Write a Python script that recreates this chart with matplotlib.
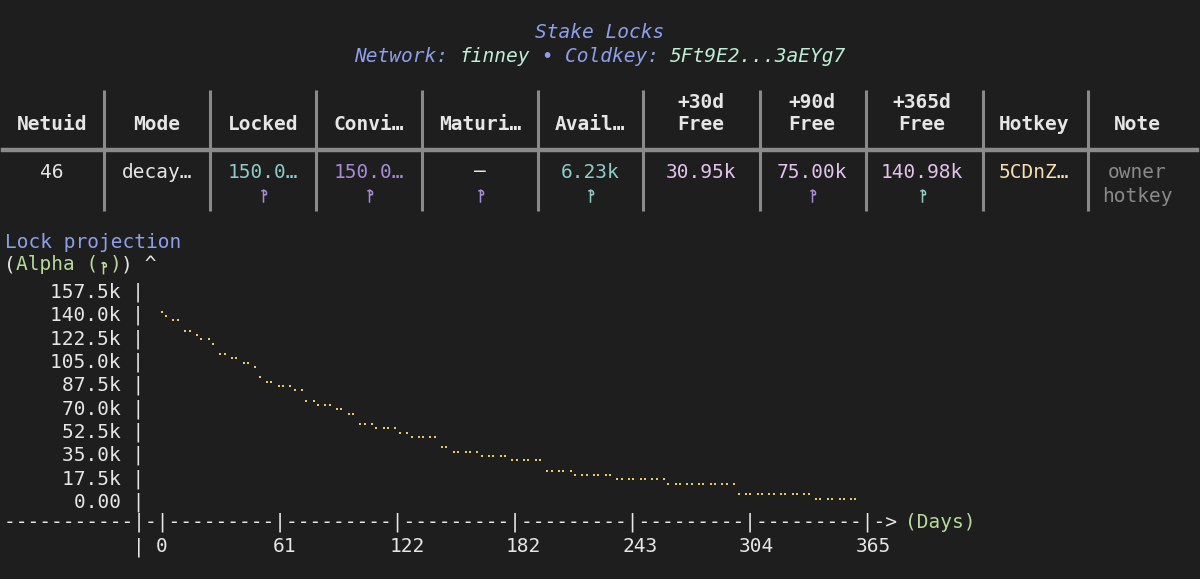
import matplotlib
matplotlib.use("Agg")
import matplotlib.pyplot as plt
import matplotlib.transforms as mtransforms
from matplotlib.path import Path

plt.rcParams["font.family"] = ["DejaVu Sans Mono", "DejaVu Sans", "Noto Sans"]

# --- data ---
network = "finney"
coldkey = "5Ft9E2...3aEYg7"

header_top = ["", "", "", "", "", "", "+30d", "+90d", "+365d", "", ""]
header_bottom = ["Netuid", "Mode", "Locked", "Convi…", "Maturi…", "Avail…",
                 "Free", "Free", "Free", "Hotkey", "Note"]
row_main = ["46", "decay…", "150.0…", "150.0…", "—", "6.23k",
            "30.95k", "75.00k", "140.98k", "5CDnZ…", "owner"]
row_note = "hotkey"
# columns whose value carries the subnet alpha symbol on the second line
sym_cols = [2, 3, 4, 5, 7, 8]

y_ticks = [0, 17.5, 35.0, 52.5, 70.0, 87.5, 105.0, 122.5, 140.0, 157.5]
y_tick_labels = ["0.00", "17.5k", "35.0k", "52.5k", "70.0k", "87.5k",
                 "105.0k", "122.5k", "140.0k", "157.5k"]
x_ticks = [0, 61, 122, 182, 243, 304, 365]

# projected locked alpha (thousands) per day
days = [0.0, 2.2, 5.9, 8.3, 12.1, 14.4, 18.2, 20.5, 24.4, 26.6,
        30.4, 32.7, 36.5, 38.7, 42.6, 44.8, 48.6, 50.9, 54.7, 57.0,
        60.8, 63.1, 66.9, 69.2, 73.0, 75.2, 79.1, 81.3, 85.1, 87.4,
        91.2, 93.5, 97.3, 99.6, 103.4, 105.7, 109.5, 111.7, 115.6, 117.8,
        121.6, 123.9, 127.7, 130.1, 133.8, 136.1, 139.9, 142.2, 146.1, 148.3,
        152.2, 154.5, 158.3, 160.6, 164.4, 166.7, 170.5, 172.8, 176.6, 178.9,
        182.7, 185.0, 188.8, 191.1, 194.9, 197.2, 201.0, 203.2, 207.1, 209.3,
        213.2, 215.4, 219.2, 221.5, 225.3, 227.6, 231.4, 233.6, 237.5, 239.8,
        243.6, 245.8, 249.7, 251.9, 255.7, 258.0, 261.8, 264.1, 267.9, 270.1,
        274.0, 276.2, 280.1, 282.3, 286.2, 288.4, 292.2, 294.5, 298.3, 300.7,
        304.5, 306.8, 310.6, 312.9, 316.7, 319.0, 322.8, 325.1, 328.9, 331.1,
        335.0, 337.3, 341.1, 343.3, 347.2, 349.4, 353.3, 355.5, 359.3, 361.6]
alpha_k = [141.2, 138.0, 134.8, 134.8, 127.0, 127.0, 124.0, 120.5, 120.5, 117.2,
           109.5, 109.5, 106.3, 106.3, 103.0, 103.0, 99.8, 92.0, 88.7, 88.7,
           85.5, 85.5, 85.5, 82.3, 82.3, 74.5, 74.5, 71.3, 71.3, 71.3,
           68.0, 68.0, 64.7, 64.7, 57.0, 57.0, 57.0, 53.8, 53.8, 53.8,
           53.8, 50.5, 50.5, 47.3, 47.3, 47.3, 47.3, 47.3, 39.5, 39.5,
           36.2, 36.2, 36.2, 36.2, 36.2, 33.0, 33.0, 33.0, 33.0, 33.0,
           29.8, 29.8, 29.8, 29.8, 29.8, 29.8, 22.0, 22.0, 22.0, 22.0,
           22.0, 18.8, 18.8, 18.8, 18.8, 18.8, 18.8, 18.8, 15.5, 15.5,
           15.5, 15.5, 15.5, 15.5, 15.5, 15.5, 15.5, 12.2, 12.2, 12.2,
           12.2, 12.2, 12.2, 12.2, 12.2, 12.2, 12.2, 12.2, 12.2, 4.5,
           4.5, 4.5, 4.5, 4.5, 4.5, 4.5, 4.5, 4.5, 4.5, 4.5,
           4.5, 4.5, 1.0, 1.0, 1.0, 1.0, 1.0, 1.0, 1.0, 1.0]

# --- layout / colours ---
W, H = 1200, 579
FS = 14
CW = 11.7  # monospace cell width in px
X0 = 4
BG = "#1e1e1e"
WHITE = "#e6e6e6"
BLUE = "#8d9fea"
MINT = "#bdeed6"
GREEN = "#b9d99a"
TEAL = "#8ccdc6"
PURPLE = "#a58bd9"
PINK = "#e2c3ee"
GREY = "#8a8a8a"

col_x = [52, 157, 263, 369, 480, 590, 701, 812, 922, 1034, 1137]
sep_x = [104, 210, 316, 422, 538, 643, 760, 866, 983, 1088]
main_colors = [WHITE, WHITE, TEAL, PURPLE, WHITE, TEAL, PINK, PINK, PINK, "#f7dfae", GREY]
sym_colors = {2: PURPLE, 3: PURPLE, 4: PURPLE, 5: TEAL, 7: PURPLE, 8: TEAL}

# the runic subnet symbol has no glyph in the installed fonts, so it is
# drawn as a small outline marker (stem + bowl, like the terminal glyph)
SYM_PATH = Path(
    [(-0.35, 0.85), (0.0, 1.0), (0.0, -1.0),
     (0.0, 1.0), (0.45, 0.95), (0.55, 0.6), (0.45, 0.3), (0.0, 0.25)],
    [Path.MOVETO, Path.LINETO, Path.LINETO,
     Path.MOVETO, Path.CURVE4, Path.CURVE4, Path.CURVE4, Path.LINETO])

fig = plt.figure(figsize=(W / 100, H / 100), dpi=100)
fig.patch.set_facecolor(BG)

bg = fig.add_axes([0, 0, 1, 1])
bg.set_xlim(0, W)
bg.set_ylim(H, 0)
bg.axis("off")


def put(x, y, s, color, ha="left", **kw):
    bg.text(x, y, s, color=color, fontsize=FS, ha=ha, va="center", **kw)


def put_cells(y, col, segments, **kw):
    # segments of (text, colour) laid out on the terminal grid
    for s, c in segments:
        put(X0 + col * CW, y, s, c, **kw)
        col += len(s)


def put_sym(x, y, color, size=10):
    bg.plot([x], [y], marker=SYM_PATH, ms=size, mfc="none", mec=color,
            mew=1.1, linestyle="none")


# title block
put(600, 32, "Stake Locks", BLUE, ha="center", style="italic")
sub = [("Network: ", BLUE), (network, MINT), (" • ", BLUE),
       ("Coldkey: ", BLUE), (coldkey, MINT)]
n = sum(len(s) for s, _ in sub)
start = 600 - n * CW / 2
for s, c in sub:
    put(start, 56, s, c, style="italic")
    start += len(s) * CW

# table
for x in sep_x:
    bg.plot([x, x], [90, 211], color=GREY, lw=2.2, solid_capstyle="butt")
bg.plot([3, W - 3], [150, 150], color=GREY, lw=3.2)
for i, x in enumerate(col_x):
    if header_top[i]:
        put(x, 102, header_top[i], WHITE, ha="center", weight="bold")
    put(x, 125, header_bottom[i], WHITE, ha="center", weight="bold")
    put(x, 172, row_main[i], main_colors[i], ha="center")
for i in sym_cols:
    put_sym(col_x[i], 196, sym_colors[i], size=9)
put(col_x[-1], 196, row_note, GREY, ha="center")

# chart labels drawn as terminal text
put(5, 242, "Lock projection", BLUE)
put_cells(265, 0, [("(", WHITE), ("Alpha ( )", GREEN), (")", WHITE), (" ^", WHITE)])
put_sym(X0 + 8.5 * CW, 268, GREEN, size=8.5)
axis_line = "-" * 11 + "|-|" + "---------|" * 6 + "-> "
put_cells(522, 0, [(axis_line, WHITE), ("(Days)", GREEN)])
put_cells(547, 11, [("|", WHITE)])

# data axes, placed on the terminal grid
left_px, right_px = 162, 862
bottom_px, top_px = 500, 290
ax = fig.add_axes([left_px / W, (H - bottom_px) / H,
                   (right_px - left_px) / W, (bottom_px - top_px) / H])
ax.patch.set_alpha(0)
for sp in ax.spines.values():
    sp.set_visible(False)
ax.set_xlim(0, 365)
ax.set_ylim(0, 157.5)

ax.scatter(days, alpha_k, marker="s", s=3.5, color="#e3cc62", linewidths=0,
           clip_on=False)

ax.set_yticks(y_ticks, labels=[f"{t} |" for t in y_tick_labels])
ax.tick_params(axis="y", length=0, pad=(left_px - (X0 + 12 * CW)) * 0.72,
               labelcolor=WHITE, labelsize=FS)
ax.set_xticks(x_ticks, labels=[str(d) for d in x_ticks])
ax.tick_params(axis="x", length=0, pad=47 * 0.72, labelcolor=WHITE, labelsize=FS)
shift = mtransforms.ScaledTranslation(-CW / 2 / 100, 0, fig.dpi_scale_trans)
for lab in ax.get_xticklabels():
    lab.set_horizontalalignment("left")
    lab.set_verticalalignment("center")
    lab.set_transform(lab.get_transform() + shift)

fig.savefig("out.png", dpi=100, facecolor=BG)
